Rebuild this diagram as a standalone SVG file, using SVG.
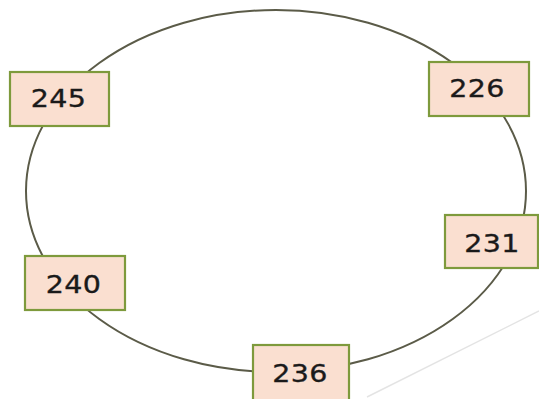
<svg xmlns="http://www.w3.org/2000/svg" width="539" height="399" viewBox="0 0 539 399">
<style>
.box{fill:#fadfd0;stroke:#7e9a3c;stroke-width:2.2}
.lbl{font-family:"DejaVu Sans",sans-serif;font-size:25.5px;fill:#1a1a1a;stroke:#1a1a1a;stroke-width:0.35;text-anchor:middle;letter-spacing:0.3px}
</style>
<rect width="539" height="399" fill="#ffffff"/>
<line x1="367" y1="397" x2="539" y2="311" stroke="#e4e4e4" stroke-width="1.5"/>
<g id="connectors">
<ellipse cx="276" cy="191" rx="250" ry="181" fill="none" stroke="#5b5b48" stroke-width="2"/>
</g>
<g id="n245"><rect class="box" x="10" y="72" width="99" height="54"/><text class="lbl" transform="translate(58.5,107) scale(1.12,1)">245</text></g>
<g id="n226"><rect class="box" x="429" y="62" width="100" height="54"/><text class="lbl" transform="translate(477,97) scale(1.12,1)">226</text></g>
<g id="n231"><rect class="box" x="445" y="215" width="93" height="53"/><text class="lbl" transform="translate(492,252) scale(1.12,1)">231</text></g>
<g id="n240"><rect class="box" x="25" y="256" width="100" height="54"/><text class="lbl" transform="translate(73.5,292.5) scale(1.12,1)">240</text></g>
<g id="n236"><rect class="box" x="253" y="345" width="96" height="58"/><text class="lbl" transform="translate(300,382) scale(1.12,1)">236</text></g>
</svg>
